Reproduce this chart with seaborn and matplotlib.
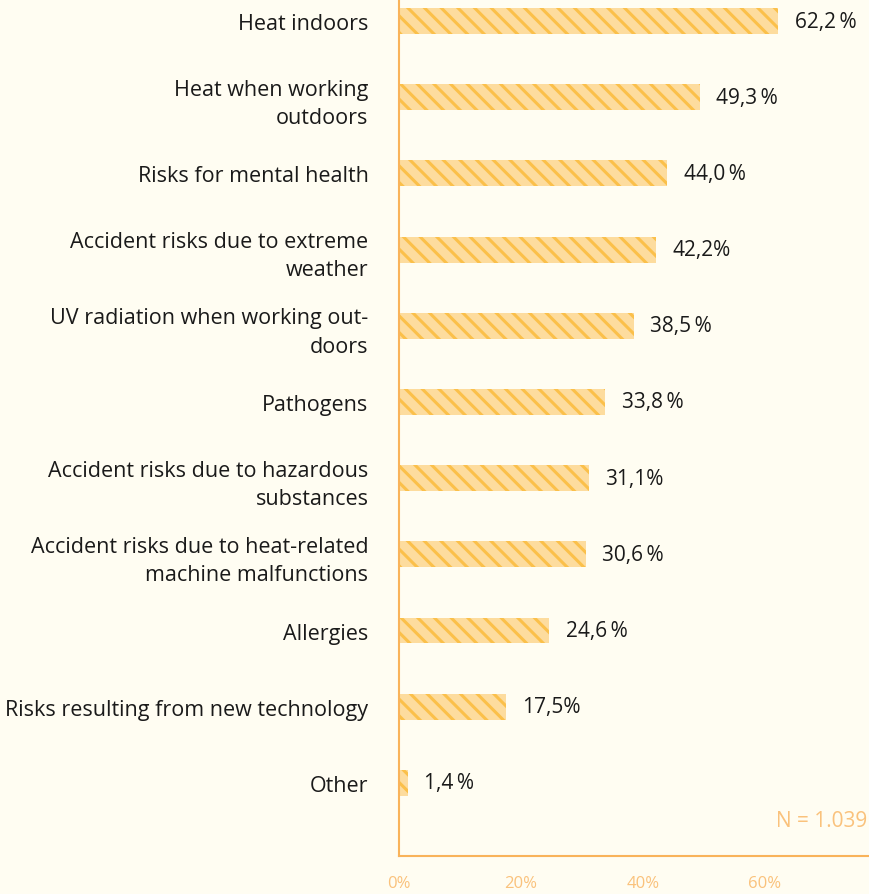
import pandas as pd
import matplotlib.pyplot as plt
import seaborn as sns

categories = [
    "Heat indoors",
    "Heat when working\noutdoors",
    "Risks for mental health",
    "Accident risks due to extreme\nweather",
    "UV radiation when working out-\ndoors",
    "Pathogens",
    "Accident risks due to hazardous\nsubstances",
    "Accident risks due to heat-related\nmachine malfunctions",
    "Allergies",
    "Risks resulting from new technology",
    "Other",
]
values = [62.2, 49.3, 44.0, 42.2, 38.5, 33.8, 31.1, 30.6, 24.6, 17.5, 1.4]
value_labels = ["62,2\u2009%", "49,3\u2009%", "44,0\u2009%", "42,2%", "38,5\u2009%",
                "33,8\u2009%", "31,1%", "30,6\u2009%", "24,6\u2009%", "17,5%", "1,4\u2009%"]
xticks = [0, 10, 20, 30, 40, 50, 60]
xtick_labels = ["0%", "", "20%", "", "40%", "", "60%"]

df = pd.DataFrame({"cat": categories, "val": values})

bg = "#FFFDF2"
fill = "#FDDC9E"
hatch_col = "#FBC04A"
axis_col = "#F9B35A"
tick_txt = "#FAC27C"

sns.set_style("white")
plt.rcParams["font.family"] = ["Open Sans", "DejaVu Sans"]
plt.rcParams["hatch.linewidth"] = 2.2
plt.rcParams["hatch.color"] = hatch_col

fig = plt.figure(figsize=(8.7, 8.95), dpi=100, facecolor=bg)
ax = fig.add_axes([399 / 870, 38 / 895, 471 / 870, 857 / 895])
ax.set_facecolor(bg)

sns.barplot(data=df, x="val", y="cat", color=fill, width=0.34, ax=ax,
            saturation=1, linewidth=0)
for p in ax.patches:
    p.set_hatch("\\\\")
    p.set_edgecolor(hatch_col)
    p.set_linewidth(0)

for i, (v, lab) in enumerate(zip(values, value_labels)):
    ax.text(v + 2.7, i, lab, va="center", ha="left", fontsize=15, color="#1a1a1a")

ax.set_xlim(0, 77.2)
ax.set_ylim(10.96, -0.29)
ax.set_xticks(xticks)
ax.set_xticklabels(xtick_labels, color=tick_txt, fontsize=12)
ax.tick_params(axis="x", direction="out", length=8, width=1.2, color=axis_col, pad=6)
ax.tick_params(axis="y", length=0, pad=22, labelsize=15.5, labelcolor="#1a1a1a")
for t in ax.get_yticklabels():
    t.set_linespacing(1.45)
ax.set_xlabel("")
ax.set_ylabel("")

for s in ["top", "right"]:
    ax.spines[s].set_visible(False)
for s in ["left", "bottom"]:
    ax.spines[s].set_color(axis_col)
    ax.spines[s].set_linewidth(1.5)

ax.text(0.995, 10.5, "N = 1.039", transform=ax.get_yaxis_transform(), ha="right",
        va="center", fontsize=15, color=tick_txt)

fig.savefig("out.png", dpi=100, facecolor=bg)
